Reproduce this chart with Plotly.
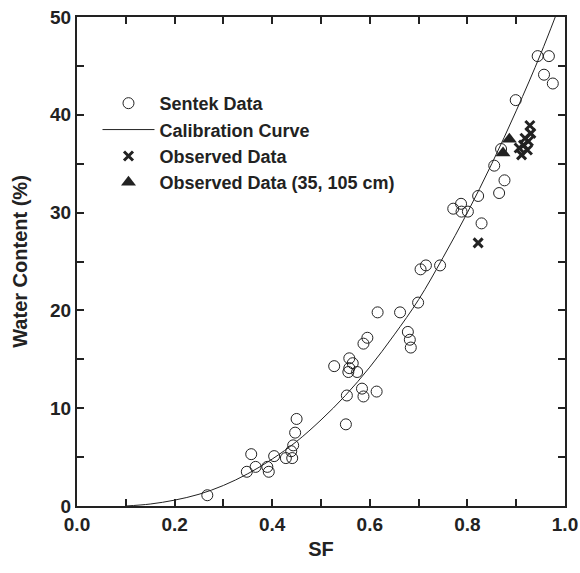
import plotly.graph_objects as go

# Sentek calibration data
sentek_sf = [0.267, 0.348, 0.357, 0.366, 0.390, 0.393, 0.404, 0.428, 0.441, 0.439, 0.443, 0.447, 0.450,
             0.527, 0.558, 0.565, 0.558, 0.556, 0.574, 0.553, 0.551, 0.584, 0.587, 0.614, 0.587, 0.595,
             0.616, 0.662, 0.699, 0.678, 0.682, 0.684,
             0.704, 0.715, 0.744, 0.771, 0.787, 0.788, 0.801, 0.822, 0.829, 0.865, 0.876, 0.855, 0.869,
             0.899, 0.944, 0.967, 0.957, 0.975]
sentek_wc = [1.1, 3.5, 5.3, 4.0, 4.0, 3.5, 5.1, 4.9, 4.9, 5.6, 6.2, 7.5, 8.9,
             14.3, 15.1, 14.6, 14.1, 13.7, 13.7, 11.3, 8.35, 12.0, 11.2, 11.7, 16.6, 17.2,
             19.8, 19.8, 20.8, 17.8, 17.0, 16.2,
             24.2, 24.6, 24.6, 30.4, 30.9, 30.1, 30.1, 31.7, 28.9, 32.0, 33.3, 34.8, 36.5,
             41.5, 46.0, 46.0, 44.1, 43.2]

# Calibration curve
curve_sf = [0.10, 0.15, 0.20, 0.25, 0.30, 0.35, 0.40, 0.45, 0.50, 0.55, 0.60, 0.65, 0.70,
            0.75, 0.80, 0.85, 0.90, 0.95, 0.98]
curve_wc = [0.0, 0.2, 0.6, 1.2, 2.1, 3.3, 4.8, 6.6, 8.8, 11.3, 14.2, 17.5, 21.1,
            25.4, 30.0, 35.0, 40.4, 46.2, 50.0]

# Observed data
obs_sf = [0.822, 0.928, 0.930, 0.918, 0.925, 0.915, 0.923, 0.906, 0.911]
obs_wc = [26.9, 38.9, 38.1, 37.6, 37.3, 36.9, 36.4, 36.6, 35.9]

# Observed data (35, 105 cm)
obs2_sf = [0.886, 0.873]
obs2_wc = [37.5, 36.1]

INK = "#222222"
FONT = "Liberation Sans, Arial, sans-serif"

fig = go.Figure()
fig.add_trace(go.Scatter(
    x=sentek_sf, y=sentek_wc, mode="markers", name="Sentek Data", legendgroup="a",
    marker=dict(symbol="circle-open", size=11, color=INK, line=dict(width=1, color=INK))))
fig.add_trace(go.Scatter(
    x=curve_sf, y=curve_wc, mode="lines", name="Calibration Curve", legendgroup="b",
    line=dict(color=INK, width=1, shape="spline")))
fig.add_trace(go.Scatter(
    x=obs_sf, y=obs_wc, mode="markers", name="Observed Data", legendgroup="c",
    marker=dict(symbol="x-thin", size=9, color=INK, line=dict(width=3, color=INK))))
fig.add_trace(go.Scatter(
    x=obs2_sf, y=obs2_wc, mode="markers", name="Observed Data (35, 105 cm)", legendgroup="d",
    marker=dict(symbol="triangle-up", size=13, color=INK, line=dict(width=0))))

axis_common = dict(
    showline=True, linewidth=2, linecolor=INK, mirror="ticks",
    ticks="inside", ticklen=7, tickwidth=2, tickcolor=INK,
    showgrid=False, zeroline=False, automargin=False, ticklabeloverflow="allow",
    tickfont=dict(family=FONT, size=19, color=INK, weight="bold"),
)
fig.update_xaxes(range=[0, 1], tick0=0, dtick=0.2, tickformat=".1f",
                 minor=dict(dtick=0.1, ticks="inside", ticklen=7, tickwidth=2, tickcolor=INK),
                 title=dict(text="SF", font=dict(family=FONT, size=20, color=INK, weight="bold"), standoff=8),
                 **axis_common)
fig.update_yaxes(range=[0, 50], tick0=0, dtick=10,
                 minor=dict(dtick=5, ticks="inside", ticklen=7, tickwidth=2, tickcolor=INK),
                 title=dict(text="Water Content (%)", font=dict(family=FONT, size=20, color=INK, weight="bold"), standoff=17),
                 **axis_common)

fig.update_layout(
    width=580, height=573,
    margin=dict(l=77, r=15, t=17, b=67),
    paper_bgcolor="white", plot_bgcolor="white",
    showlegend=True,
    legend=dict(x=0.042, y=0.861, xanchor="left", yanchor="top",
                bgcolor="rgba(0,0,0,0)", borderwidth=0,
                font=dict(family=FONT, size=18, color=INK, weight="bold"),
                traceorder="grouped", tracegroupgap=0, itemwidth=52),
)

fig.write_html("out.html", config={"displayModeBar": False},
               post_script="document.body.style.margin='0';")
